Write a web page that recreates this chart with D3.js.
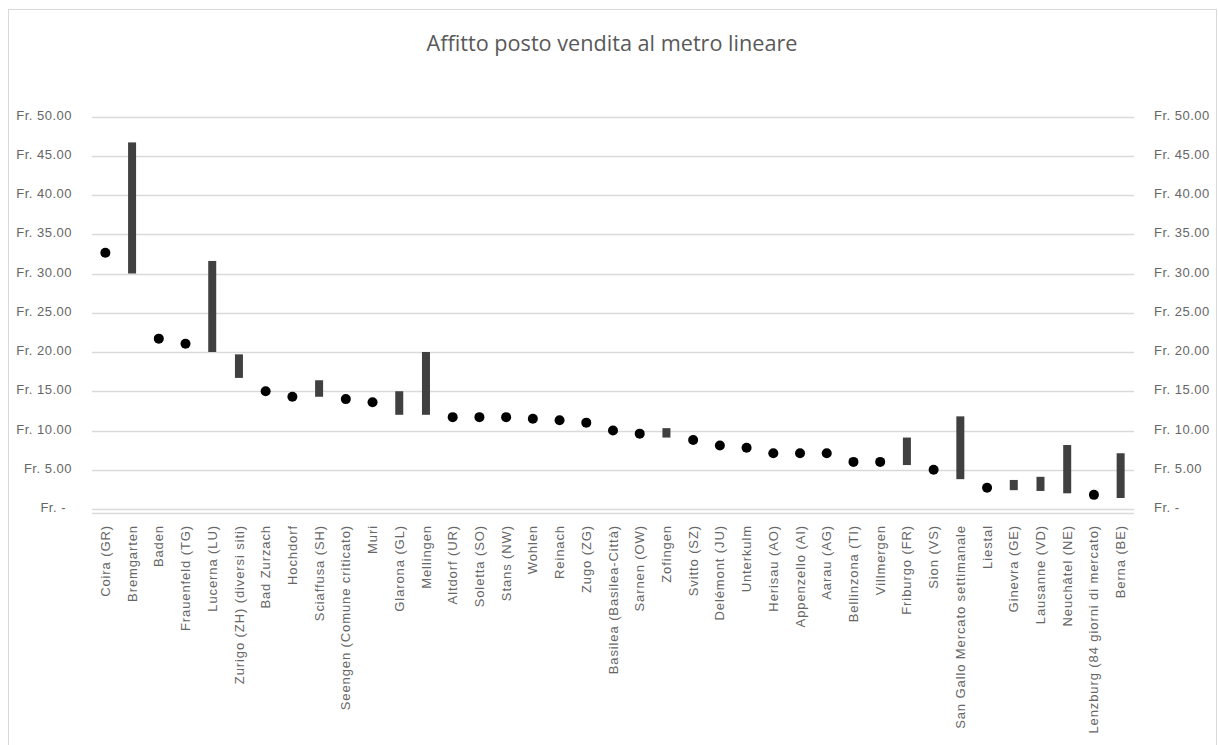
<!DOCTYPE html>
<html>
<head>
<meta charset="utf-8">
<script src="https://cdn.jsdelivr.net/npm/d3@7"></script>
<style>
  body { margin: 0; background: #fff; }
  svg { display: block; font-family: "Open Sans", sans-serif; }
</style>
</head>
<body>
<svg id="chart" width="1219" height="745"></svg>
<script>
// categorie (comuni)
var comuni = ['Coira (GR)', 'Bremgarten', 'Baden', 'Frauenfeld (TG)', 'Lucerna (LU)', 'Zurigo (ZH) (diversi siti)',
    'Bad Zurzach', 'Hochdorf', 'Sciaffusa (SH)', 'Seengen (Comune criticato)', 'Muri', 'Glarona (GL)', 'Mellingen',
    'Altdorf (UR)', 'Soletta (SO)', 'Stans (NW)', 'Wohlen', 'Reinach', 'Zugo (ZG)', 'Basilea (Basilea-Città)',
    'Sarnen (OW)', 'Zofingen', 'Svitto (SZ)', 'Delémont (JU)', 'Unterkulm', 'Herisau (AO)', 'Appenzello (AI)',
    'Aarau (AG)', 'Bellinzona (TI)', 'Villmergen', 'Friburgo (FR)', 'Sion (VS)', 'San Gallo Mercato settimanale',
    'Liestal', 'Ginevra (GE)', 'Lausanne (VD)', 'Neuchâtel (NE)', 'Lenzburg (84 giorni di mercato)', 'Berna (BE)']
// prezzo minimo (o prezzo unico)
var minimo = [32.65, 30.0, 21.7, 21.05, 20.0, 16.7, 15.0, 14.3, 14.3, 14.0, 13.6, 12.0, 12.0,
    11.7, 11.7, 11.7, 11.5, 11.3, 11.0, 10.0, 9.6, 9.1, 8.8, 8.1, 7.8, 7.1, 7.1,
    7.1, 6.0, 6.0, 5.6, 5.0, 3.8, 2.7, 2.4, 2.3, 2.0, 1.8, 1.4]
// prezzo massimo (null = prezzo unico, disegnato come punto)
var massimo = [null, 46.7, null, null, 31.6, 19.7, null, null, 16.4, null, null, 15.0, 20.0,
    null, null, null, null, null, null, null, null, 10.3, null, null, null, null, null,
    null, null, null, 9.1, null, 11.8, null, 3.7, 4.1, 8.15, null, 7.1]
var yTicks = [0, 5, 10, 15, 20, 25, 30, 35, 40, 45, 50]

var svg = d3.select('#chart')
var x0 = 92, x1 = 1134, yTop = 116.5, yBot = 509

// bordo del grafico
svg.append('rect').attr('x', 8.5).attr('y', 9.5).attr('width', 1208).attr('height', 750)
    .attr('fill', '#fff').attr('stroke', '#d9d9d9')

svg.append('text').attr('x', 612).attr('y', 51)
    .attr('text-anchor', 'middle').attr('fill', '#595959')
    .attr('font-size', 21).attr('textLength', 371).attr('lengthAdjust', 'spacingAndGlyphs')
    .text('Affitto posto vendita al metro lineare')

var x = d3.scaleBand().domain(comuni).range([x0, x1])
var y = d3.scaleLinear().domain([0, 50]).range([yBot, yTop])

function fmt(v) { return v === 0 ? 'Fr. -' : 'Fr. ' + v.toFixed(2) }

// griglia
svg.append('g').selectAll('line').data(yTicks).enter().append('line')
    .attr('x1', x0).attr('x2', x1)
    .attr('y1', function (d) { return Math.round(y(d)) + 0.5 })
    .attr('y2', function (d) { return Math.round(y(d)) + 0.5 })
    .attr('stroke', '#d9d9d9').attr('stroke-width', 1.3)
svg.append('line').attr('x1', x0).attr('x2', x1).attr('y1', yBot + 4.5).attr('y2', yBot + 4.5)
    .attr('stroke', '#d9d9d9').attr('stroke-width', 1.3)

// asse sinistro
var left = d3.axisLeft(y).tickValues(yTicks).tickSize(0).tickPadding(0).tickFormat(fmt)
var gl = svg.append('g').attr('transform', 'translate(72,-1.5)').call(left)
gl.select('.domain').remove()
gl.selectAll('text').attr('fill', '#666').attr('font-size', 13).attr('letter-spacing', 0.5)
    .attr('dx', function (d) { return d === 0 ? -6 : 0 })

// asse destro
var right = d3.axisRight(y).tickValues(yTicks).tickSize(0).tickPadding(0).tickFormat(fmt)
var gr = svg.append('g').attr('transform', 'translate(1154,-1.5)').call(right)
gr.select('.domain').remove()
gr.selectAll('text').attr('fill', '#666').attr('font-size', 13).attr('letter-spacing', 0.5)

// etichette categorie
var bottom = d3.axisBottom(x).tickSize(0).tickPadding(0)
var gb = svg.append('g').attr('transform', 'translate(0,525)').call(bottom)
gb.select('.domain').remove()
gb.selectAll('text')
    .attr('transform', 'rotate(-90)')
    .attr('text-anchor', 'end').attr('x', 0).attr('y', 0).attr('dy', '0.35em')
    .attr('fill', '#666').attr('font-size', 13).attr('letter-spacing', 0.9)

var idx = d3.range(comuni.length)
var bw = 8

// barre per gli intervalli di prezzo
svg.append('g').selectAll('rect').data(idx.filter(function (i) { return massimo[i] !== null })).enter()
    .append('rect')
    .attr('x', function (i) { return x(comuni[i]) + x.bandwidth() / 2 - bw / 2 })
    .attr('y', function (i) { return y(massimo[i]) })
    .attr('width', bw)
    .attr('height', function (i) { return y(minimo[i]) - y(massimo[i]) })
    .attr('fill', '#404040')

// punti per prezzo unico
svg.append('g').selectAll('circle').data(idx.filter(function (i) { return massimo[i] === null })).enter()
    .append('circle')
    .attr('cx', function (i) { return x(comuni[i]) + x.bandwidth() / 2 })
    .attr('cy', function (i) { return y(minimo[i]) })
    .attr('r', 5)
    .attr('fill', '#000')
</script>
</body>
</html>
